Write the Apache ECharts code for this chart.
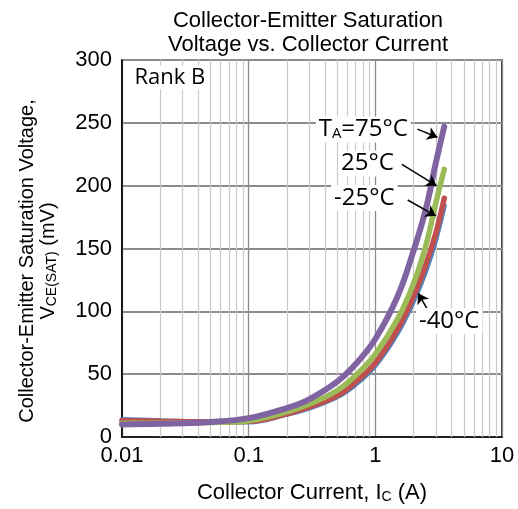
<!DOCTYPE html>
<html>
<head>
<meta charset="UTF-8">
<title></title>
<script src="https://cdn.jsdelivr.net/npm/echarts@6/dist/echarts.min.js"></script>
<style>
html, body { margin: 0; padding: 0; background: #fff; }
#main { width: 518px; height: 509px; }
</style>
</head>
<body>
<div id="main"></div>
<script type="text/javascript">
// collector current (A)
var currents = [0.01, 0.02, 0.05, 0.1, 0.2, 0.3, 0.5, 0.7, 1, 1.5, 2, 2.5, 3, 3.5];
// VCE(SAT) (mV) per temperature
var vce75 = [10, 10.5, 12, 15, 23, 30, 44, 58, 78, 112, 148, 181, 218, 247];
var vce25 = [11, 11, 11.5, 13, 20, 26, 37, 49, 66, 94, 122, 152, 186, 213];
var vceM25 = [13, 12.5, 12, 12.5, 18.5, 24, 33, 44, 59, 86, 112, 137, 162, 190];
var vceM40 = [14, 13, 12, 12, 18, 23, 32, 42, 57, 83, 108, 132, 157, 184];
var yTicks = [0, 50, 100, 150, 200, 250, 300];
var decades = [0.01, 0.1, 1];

function pairs(ys) {
	return currents.map(function(x, i) { return [x, ys[i]]; });
}

// minor log grid lines 2..9 in each decade
var minorLines = [];
decades.forEach(function(d) {
	for (var k = 2; k <= 9; k++) {
		minorLines.push({ xAxis: +(d * k).toPrecision(3) });
	}
});

var FONT = 'Liberation Sans';
var NOTE_FONT = 'Open Sans';

function note(coord, text, size) {
	return {
		coord: coord,
		symbolSize: 1,
		itemStyle: { color: 'rgba(0,0,0,0)' },
		label: {
			show: true,
			position: 'inside',
			formatter: text,
			fontFamily: NOTE_FONT,
			fontSize: size,
			color: '#000',
			backgroundColor: '#fff',
			padding: [1, 3, 1, 3],
			rich: {
				sub: { fontFamily: NOTE_FONT, fontSize: size * 0.62, verticalAlign: 'bottom', padding: [8, 0, 0, 0], color: '#000' }
			}
		}
	};
}

var lineBase = function(name, color, ys, z, w) {
	return {
		name: name,
		type: 'line',
		data: pairs(ys),
		smooth: 0.4,
		showSymbol: false,
		symbol: 'none',
		z: z,
		lineStyle: { color: color, width: w, cap: 'round' }
	};
};

var sBlue = lineBase('-40°C', '#4F81BD', vceM40, 2, 5);
sBlue.markLine = {
	silent: true,
	z: 1,
	symbol: ['none', 'none'],
	label: { show: false },
	lineStyle: { type: 'solid', color: '#c8c8c8', width: 1.2 },
	data: minorLines
};
var sRed = lineBase('-25°C', '#C0504D', vceM25, 3, 5.5);
var sGreen = lineBase('25°C', '#9BBB59', vce25, 4, 5.5);
var sPurple = lineBase('75°C', '#8064A2', vce75, 5, 6);
sPurple.markLine = {
	silent: true,
	z: 8,
	symbol: ['none', 'arrow'],
	symbolSize: 10,
	label: { show: false },
	lineStyle: { type: 'solid', color: '#000', width: 1.5 },
	data: [
		[{ coord: [2.15, 245] }, { coord: [3.09, 238.5] }],
		[{ coord: [1.62, 217] }, { coord: [3.04, 200] }],
		[{ coord: [1.8, 188.6] }, { coord: [3.0, 176] }],
		[{ coord: [2.58, 101.6] }, { coord: [2.18, 114.3] }]
	]
};
sPurple.markPoint = {
	silent: true,
	z: 9,
	data: [
		note([0.0239, 285.7], 'Rank B', 22),
		note([0.804, 244.3], 'T{sub|A}=75°C', 24),
		note([0.865, 217.2], '25°C', 24),
		note([0.819, 189.8], '-25°C', 24),
		note([3.83, 91.9], '-40°C', 24)
	]
};

var subStyle = { fontFamily: FONT, fontSize: 14, verticalAlign: 'bottom', padding: [7, 0, 0, 0], color: '#000' };

var myChart = echarts.init(document.getElementById('main'));
var option = {
	animation: false,
	backgroundColor: '#fff',
	title: {
		text: 'Collector-Emitter Saturation\nVoltage vs. Collector Current',
		left: 303,
		top: 4,
		textAlign: 'center',
		textStyle: { fontFamily: FONT, fontSize: 22, fontWeight: 'normal', color: '#000', lineHeight: 24 }
	},
	grid: {
		left: 122,
		right: 16,
		top: 60,
		bottom: 72,
		show: true,
		borderColor: '#000',
		borderWidth: 1.5
	},
	xAxis: {
		type: 'log',
		logBase: 10,
		min: 0.01,
		max: 10,
		name: 'Collector Current, I{sub|C} (A)',
		nameLocation: 'middle',
		nameGap: 45,
		nameTextStyle: {
			fontFamily: FONT, fontSize: 22, color: '#000',
			rich: { sub: subStyle }
		},
		axisLine: { lineStyle: { color: '#000', width: 1.5 } },
		axisTick: { show: false },
		axisLabel: { fontFamily: FONT, fontSize: 22, color: '#000', margin: 8 },
		splitLine: { show: true, lineStyle: { color: '#8c8c8c', width: 1.3 } }
	},
	yAxis: {
		type: 'value',
		min: yTicks[0],
		max: yTicks[yTicks.length - 1],
		interval: 50,
		name: 'Collector-Emitter Saturation Voltage,\nV{sub|CE(SAT)} (mV)',
		nameLocation: 'middle',
		nameRotate: 90,
		nameGap: 63,
		nameTextStyle: {
			fontFamily: FONT, fontSize: 20, color: '#000', lineHeight: 21,
			padding: [0, 25, 0, 0],
			rich: { sub: subStyle }
		},
		axisLine: { show: true, lineStyle: { color: '#000', width: 1.5 } },
		axisTick: { show: false },
		axisLabel: { fontFamily: FONT, fontSize: 22, color: '#000', margin: 10 },
		splitLine: { show: true, lineStyle: { color: '#8c8c8c', width: 2 } }
	},
	series: [sBlue, sRed, sGreen, sPurple]
};
myChart.setOption(option);
</script>
</body>
</html>
